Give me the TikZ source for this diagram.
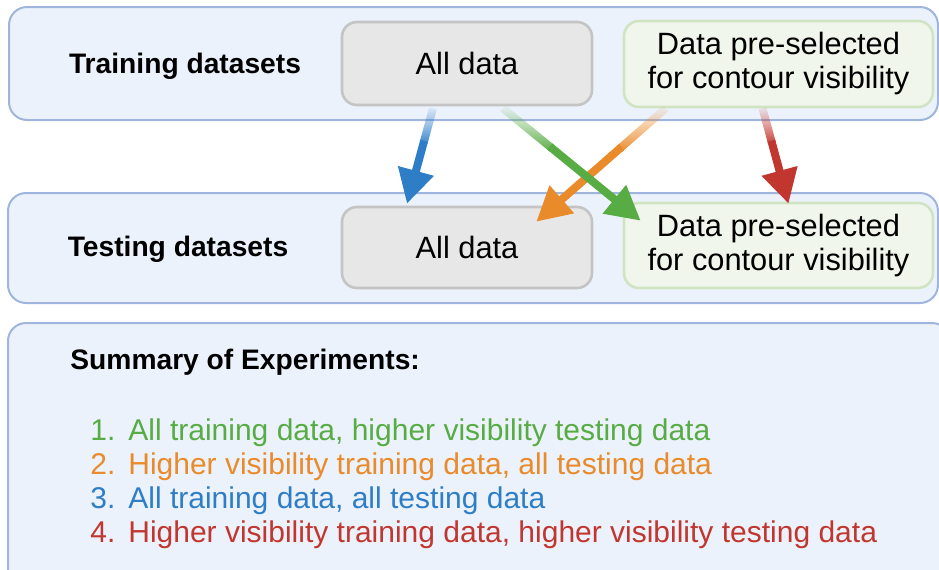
\documentclass[tikz,border=0pt]{standalone}
\usepackage{fontspec}
\setmainfont{Liberation Sans}
\usetikzlibrary{arrows.meta,calc,fadings}

\definecolor{panelfill}{HTML}{ECF2FB}
\definecolor{paneldraw}{HTML}{9FB5DD}
\definecolor{allfill}{HTML}{E7E7E7}
\definecolor{alldraw}{HTML}{C4C4C4}
\definecolor{selfill}{HTML}{F1F6EC}
\definecolor{seldraw}{HTML}{D0E4C4}
\definecolor{expblue}{HTML}{2E7EC7}
\definecolor{expgreen}{HTML}{58AC44}
\definecolor{exporange}{HTML}{E98A2B}
\definecolor{expred}{HTML}{C1362E}

% arrows start faint at the tail and get solid further down
\tikzfading[name=tailfade,top color=transparent!100,bottom color=transparent!0]

\begin{document}
\begin{tikzpicture}[x=0.5pt,y=-0.5pt]
 \tikzstyle{panel}=[draw=paneldraw,fill=panelfill,line width=1pt,rounded corners=9pt,inner sep=0pt]
 \tikzstyle{allbox}=[draw=alldraw,fill=allfill,line width=1.3pt,rounded corners=7.5pt,inner sep=0pt,
   minimum width=125pt,font=\fontsize{15.4}{17}\selectfont]
 \tikzstyle{selbox}=[draw=seldraw,fill=selfill,line width=1.3pt,rounded corners=7.5pt,inner sep=0pt,
   minimum width=154.5pt,align=center,font=\fontsize{15.4}{17}\selectfont]
 \tikzstyle{rowlabel}=[font=\fontsize{14.1}{17}\selectfont\bfseries]
 \tikzstyle{shaft}=[line width=4pt,path fading=tailfade]
 \tikzstyle{head}=[line width=4pt,-{Triangle[width=17.5pt,length=17pt]}]
 \tikzstyle{item}=[anchor=west,inner sep=0pt,font=\fontsize{15}{17}\selectfont]

 \useasboundingbox (0,0) rectangle (939,569);
 \clip (0,0) rectangle (939,569);

 % the two rows of datasets
 \node (trainpanel) at (473.5,63.5) [panel,minimum width=464.5pt,minimum height=56.5pt] {};
 \node (testpanel) at (473,248) [panel,minimum width=465pt,minimum height=55pt] {};
 \node (trainlabel) at (185,66) [rowlabel] {Training datasets};
 \node (testlabel) at (178,249) [rowlabel] {Testing datasets};

 \node (trainall) at (467,63.5) [allbox,minimum height=41.5pt] {All data};
 \node (trainsel) at (778.5,64) [selbox,minimum height=43pt] {Data pre-selected\\for contour visibility};
 \node (testall) at (467,247.5) [allbox,minimum height=40.5pt] {All data};
 \node (testsel) at (778.5,245.5) [selbox,minimum height=42.5pt] {Data pre-selected\\for contour visibility};

 % arrow ends, one arrow per experiment
 \coordinate (bluefrom) at ($(trainall.south)+(-34,2)$);
 \coordinate (blueto) at ($(testall.north)+(-60,-2)$);
 \coordinate (orangefrom) at ($(trainsel.south west)+(43,0)$);
 \coordinate (orangeto) at ($(testall.north east)+(-57,16)$);
 \coordinate (greenfrom) at ($(trainall.south)+(36,2)$);
 \coordinate (greento) at ($(testsel.north west)+(18,19)$);
 \coordinate (redfrom) at ($(trainsel.south)+(-16,0)$);
 \coordinate (redto) at ($(testsel.north)+(10,2)$);

 % faded tail first, then the solid rest with the tip (orange goes under green)
 \foreach \c in {blue,orange,green,red}{
   \draw [shaft,exp\c] (\c from) -- ($(\c from)!0.36!(\c to)$);
   \draw [head,exp\c] ($(\c from)!0.34!(\c to)$) -- (\c to);
 }

 % summary
 \node (sumpanel) at (479,461.5) [panel,minimum width=471pt,minimum height=138.5pt] {};
 \node (sumtitle) at (70,362) [item,font=\fontsize{14.1}{17}\selectfont\bfseries] {Summary of Experiments:};
 \node (item1) at (90,433) [item,expgreen] {\makebox[19pt][l]{1.}All training data, higher visibility testing data};
 \node (item2) at (90,467) [item,exporange] {\makebox[19pt][l]{2.}Higher visibility training data, all testing data};
 \node (item3) at (90,501) [item,expblue] {\makebox[19pt][l]{3.}All training data, all testing data};
 \node (item4) at (90,535) [item,expred] {\makebox[19pt][l]{4.}Higher visibility training data, higher visibility testing data};
\end{tikzpicture}
\end{document}
